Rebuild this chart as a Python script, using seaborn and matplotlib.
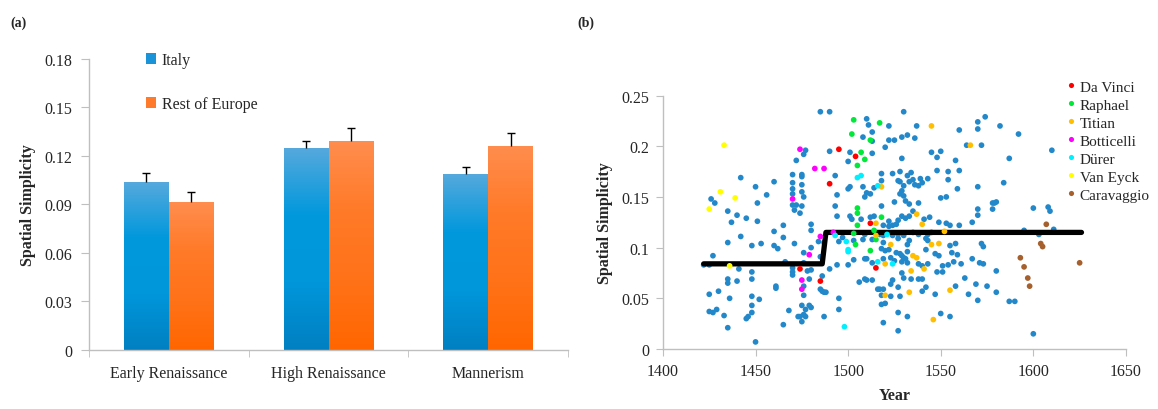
import numpy as np
import pandas as pd
import matplotlib
matplotlib.use("Agg")
import matplotlib.pyplot as plt
from matplotlib.colors import LinearSegmentedColormap
from matplotlib.patches import Patch
import seaborn as sns

# ---- panel (a): mean spatial simplicity per period ----
periods = ["Early Renaissance", "High Renaissance", "Mannerism"]
italy_mean = [0.1039, 0.1250, 0.1085]
italy_err = [0.0058, 0.0045, 0.0048]
europe_mean = [0.0913, 0.1293, 0.1264]
europe_err = [0.0062, 0.0080, 0.0077]
regions = ["Italy", "Rest of Europe"]
bar_ticks = [0, 0.03, 0.06, 0.09, 0.12, 0.15, 0.18]
bar_tick_labels = ["0", "0.03", "0.06", "0.09", "0.12", "0.15", "0.18"]

# ---- panel (b): paintings by year ----
step_years = [1422, 1486, 1488, 1626]
step_vals = [0.084, 0.084, 0.115, 0.115]
year_ticks = [1400, 1450, 1500, 1550, 1600, 1650]
simp_ticks = [0, 0.05, 0.1, 0.15, 0.2, 0.25]
simp_tick_labels = ["0", "0.05", "0.1", "0.15", "0.2", "0.25"]

other_pts = [
    (1422, .083), (1425, .083), (1426, .148), (1428, .144), (1427, .092), (1425, .054),
    (1425, .037), (1427, .036), (1429, .039), (1433, .033), (1430, .057), (1435, .136),
    (1437, .125), (1440, .132), (1442, .169), (1435, .105), (1435, .069), (1435, .065),
    (1436, .050), (1435, .021), (1440, .067), (1441, .079), (1442, .111), (1445, .129),
    (1448, .102), (1448, .076), (1448, .069), (1448, .052), (1448, .043), (1448, .036),
    (1446, .032), (1445, .030), (1450, .160), (1451, .144), (1451, .126), (1453, .104),
    (1456, .152), (1452, .049), (1450, .007), (1460, .165), (1460, .116), (1460, .102),
    (1462, .099), (1461, .062), (1461, .060), (1465, .122), (1465, .110), (1465, .024),
    (1466, .086), (1468, .038), (1470, .172), (1470, .164), (1470, .158), (1470, .153),
    (1470, .142), (1471, .137), (1472, .142), (1474, .134), (1471, .104), (1470, .080),
    (1470, .076), (1470, .073), (1476, .192), (1477, .196), (1472, .186), (1475, .172),
    (1475, .170), (1475, .162), (1475, .155), (1476, .150), (1475, .141), (1480, .123),
    (1480, .117), (1480, .100), (1476, .095), (1476, .085), (1478, .077), (1479, .069),
    (1476, .062), (1476, .053), (1475, .043), (1477, .039), (1476, .034), (1474, .032),
    (1473, .032), (1477, .032), (1475, .027), (1479, .043), (1480, .041), (1480, .078),
    (1485, .234), (1490, .234), (1490, .195), (1484, .106), (1485, .091), (1487, .105),
    (1486, .072), (1485, .059), (1486, .057), (1487, .056), (1488, .056), (1487, .032),
    (1490, .079), (1493, .171), (1494, .152), (1493, .141), (1494, .131), (1494, .083),
    (1495, .050), (1495, .039),
    (1510, .227), (1511, .221), (1530, .234), (1513, .214), (1508, .209), (1522, .220),
    (1537, .220), (1513, .205), (1522, .206), (1525, .206), (1529, .209), (1532, .211),
    (1536, .208), (1560, .216), (1513, .193), (1520, .199), (1545, .194), (1550, .195),
    (1501, .194), (1500, .185), (1529, .188), (1528, .175), (1534, .174), (1548, .189),
    (1558, .186), (1518, .173), (1524, .173), (1532, .171), (1527, .166), (1539, .168),
    (1543, .168), (1554, .175), (1560, .176), (1548, .176), (1501, .160), (1500, .158),
    (1508, .160), (1514, .159), (1518, .166), (1528, .165), (1530, .161), (1533, .165),
    (1535, .167), (1536, .162), (1540, .164), (1538, .161), (1554, .167), (1559, .158),
    (1510, .154), (1512, .153), (1509, .150), (1528, .153), (1529, .156), (1530, .151),
    (1518, .141), (1525, .145), (1531, .146), (1533, .143), (1538, .144), (1550, .149),
    (1553, .150), (1501, .131), (1502, .128), (1507, .128), (1512, .130), (1514, .131),
    (1522, .126), (1524, .122), (1526, .123), (1527, .127), (1529, .131), (1531, .129),
    (1533, .131), (1535, .136), (1541, .128), (1544, .130), (1549, .125), (1553, .124),
    (1555, .122), (1560, .122), (1519, .122), (1522, .121), (1497, .110), (1495, .106),
    (1509, .113), (1503, .107), (1508, .108), (1513, .108), (1517, .113), (1519, .112),
    (1524, .112), (1527, .113), (1527, .109), (1530, .112), (1532, .103), (1535, .115),
    (1538, .113), (1542, .109), (1543, .107), (1543, .113), (1533, .107), (1545, .115),
    (1555, .102), (1556, .095), (1559, .093), (1558, .104), (1519, .105), (1518, .099),
    (1520, .097), (1522, .098), (1526, .095), (1528, .094), (1529, .092), (1530, .090),
    (1525, .087), (1529, .086), (1531, .089), (1532, .085), (1538, .084), (1540, .082),
    (1543, .084), (1500, .083), (1503, .088), (1509, .089), (1510, .089), (1513, .085),
    (1519, .089), (1523, .090), (1532, .096), (1542, .098), (1547, .094), (1549, .092),
    (1551, .082), (1554, .083), (1557, .086), (1561, .084), (1509, .069), (1510, .068),
    (1513, .068), (1516, .059), (1517, .059), (1519, .059), (1524, .068), (1523, .064),
    (1527, .061), (1528, .052), (1530, .070), (1529, .075), (1534, .069), (1538, .069),
    (1540, .069), (1542, .061), (1548, .076), (1551, .076), (1558, .062), (1506, .066),
    (1518, .053), (1518, .044), (1520, .045), (1523, .052), (1527, .036), (1532, .032),
    (1540, .057), (1547, .054), (1519, .026), (1527, .018), (1550, .035), (1555, .032),
    (1570, .224), (1574, .229), (1570, .217), (1582, .220), (1592, .212), (1564, .201),
    (1572, .201), (1610, .196), (1587, .188), (1584, .164), (1570, .160), (1578, .144),
    (1579, .144), (1580, .145), (1578, .138), (1570, .138), (1570, .132), (1600, .139),
    (1608, .140), (1609, .136), (1567, .125), (1611, .118), (1595, .117), (1603, .113),
    (1572, .104), (1573, .101), (1567, .089), (1571, .085), (1573, .084), (1580, .077),
    (1563, .070), (1569, .064), (1575, .062), (1580, .056), (1565, .054), (1570, .048),
    (1587, .047), (1590, .047), (1600, .015),
]
davinci_pts = [(1495, .197), (1490, .163), (1474, .079), (1485, .067), (1504, .190),
               (1512, .124), (1515, .080)]
raphael_pts = [(1503, .226), (1517, .223), (1502, .212), (1512, .206), (1507, .194),
               (1509, .187), (1505, .181), (1505, .139), (1505, .134), (1505, .122),
               (1503, .114), (1514, .117), (1518, .130), (1504, .103), (1512, .097),
               (1515, .108)]
titian_pts = [(1545, .220), (1518, .160), (1537, .133), (1540, .123), (1515, .124),
              (1523, .103), (1535, .092), (1537, .090), (1520, .084), (1534, .077),
              (1541, .079), (1545, .103), (1549, .104), (1552, .116), (1555, .058),
              (1520, .053), (1533, .056), (1546, .029), (1515, .112), (1566, .201)]
botticelli_pts = [(1474, .197), (1482, .178), (1487, .178), (1470, .148), (1479, .093),
                  (1475, .068), (1475, .059), (1485, .111), (1492, .115)]
durer_pts = [(1493, .112), (1505, .169), (1507, .171), (1516, .161), (1499, .106),
             (1500, .098), (1500, .096), (1516, .086), (1524, .084), (1521, .113),
             (1498, .022)]
vaneyck_pts = [(1433, .201), (1431, .155), (1439, .149), (1425, .138), (1436, .082)]
caravaggio_pts = [(1607, .123), (1604, .104), (1605, .101), (1593, .090), (1595, .081),
                  (1597, .070), (1598, .062), (1625, .085)]

artist_names = ["Da Vinci", "Raphael", "Titian", "Botticelli", "Dürer", "Van Eyck", "Caravaggio"]
artist_colors = ["#ff0000", "#00e83a", "#ffbf00", "#ff00ff", "#00f0ff", "#ffff00", "#a5602e"]
artist_pts = [davinci_pts, raphael_pts, titian_pts, botticelli_pts, durer_pts, vaneyck_pts, caravaggio_pts]

sns.set_style("white")
plt.rcParams["font.family"] = ["Liberation Serif", "DejaVu Serif"]
axis_grey = "#bfbfbf"

fig = plt.figure(figsize=(11.58, 4.10), dpi=100)
ax1 = fig.add_axes([0.0769, 0.1446, 0.4136, 0.7091])
ax2 = fig.add_axes([0.5725, 0.1463, 0.3998, 0.6183])

# ---------------- (a) bars ----------------
bars = pd.DataFrame({
    "period": periods * 2,
    "region": [regions[0]] * 3 + [regions[1]] * 3,
    "value": italy_mean + europe_mean,
    "err": italy_err + europe_err,
})
sns.barplot(data=bars, x="period", y="value", hue="region", hue_order=regions,
            palette=["#0096da", "#ff7520"], width=0.5625, errorbar=None,
            legend=False, ax=ax1, zorder=2)

grads = {
    regions[0]: ["#0080c2", "#0096da", "#0098dc", "#55a9dd"],
    regions[1]: ["#ff6600", "#ff7218", "#ff7a28", "#ff8d4e"],
}
for patch, (_, row) in zip(ax1.patches, bars.iterrows()):
    x0, y0 = patch.get_x(), patch.get_y()
    w, h = patch.get_width(), patch.get_height()
    cmap = LinearSegmentedColormap.from_list("g", grads[row["region"]])
    im = ax1.imshow(np.linspace(1, 0, 256).reshape(-1, 1), cmap=cmap, vmin=0, vmax=1,
                    extent=[x0, x0 + w, y0, y0 + h], aspect="auto", origin="upper", zorder=2)
    im.set_clip_path(patch)
    patch.set_facecolor("none")
    patch.set_edgecolor("none")
    eb = ax1.errorbar(x0 + w / 2, h, yerr=[[0], [row["err"]]], fmt="none", ecolor="black",
                      elinewidth=1, capsize=3, capthick=1, zorder=3)
    # only the upper cap, as in the original
    eb[1][0].set_visible(False)

ax1.set_xlim(-0.5, 2.5)
ax1.set_ylim(0, 0.18)
ax1.set_yticks(bar_ticks)
ax1.set_yticklabels(bar_tick_labels)
ax1.set_xticks([-0.5, 0.5, 1.5, 2.5], minor=True)
ax1.tick_params(axis="x", which="major", length=0, pad=11, labelsize=11.5)
ax1.tick_params(axis="x", which="minor", length=5, color=axis_grey, direction="out", bottom=True)
ax1.tick_params(axis="y", length=6, color=axis_grey, direction="out", left=True, pad=6, labelsize=11.5)
ax1.set_xlabel("")
ax1.set_ylabel("Spatial Simplicity", fontsize=11.5, fontweight="bold", labelpad=6)
for s in ["top", "right"]:
    ax1.spines[s].set_visible(False)
for s in ["left", "bottom"]:
    ax1.spines[s].set_color(axis_grey)
    ax1.spines[s].set_linewidth(1)

handles = [Patch(facecolor="#1a93d8", edgecolor="none"), Patch(facecolor="#ff7a2a", edgecolor="none")]
ax1.legend(handles, regions, loc="upper left", bbox_to_anchor=(0.105, 1.045), frameon=False,
           fontsize=11.5, handlelength=0.65, handleheight=0.65, handletextpad=0.35,
           labelspacing=1.75, borderaxespad=0)

# ---------------- (b) scatter ----------------
other = pd.DataFrame(other_pts, columns=["year", "value"])
sns.scatterplot(data=other, x="year", y="value", color="#2388c9", s=17, edgecolor="none",
                linewidth=0, ax=ax2, zorder=2)
sns.lineplot(x=step_years, y=step_vals, color="black", linewidth=3.8, estimator=None,
             sort=False, ax=ax2, zorder=3)

frames = []
for name, pts in zip(artist_names, artist_pts):
    df = pd.DataFrame(pts, columns=["year", "value"])
    df["artist"] = name
    frames.append(df)
artists = pd.concat(frames, ignore_index=True)
sns.scatterplot(data=artists, x="year", y="value", hue="artist", hue_order=artist_names,
                palette=artist_colors, s=17, edgecolor="none", linewidth=0, ax=ax2, zorder=4)

ax2.set_xlim(1400, 1650)
ax2.set_ylim(0, 0.25)
ax2.set_xticks(year_ticks)
ax2.set_yticks(simp_ticks)
ax2.set_yticklabels(simp_tick_labels)
ax2.tick_params(axis="both", length=5, color=axis_grey, direction="out", bottom=True,
                left=True, labelsize=11.5, pad=5)
ax2.set_xlabel("Year", fontsize=11.5, fontweight="bold", labelpad=6)
ax2.set_ylabel("Spatial Simplicity", fontsize=11.5, fontweight="bold", labelpad=6)
for s in ["top", "right"]:
    ax2.spines[s].set_visible(False)
for s in ["left", "bottom"]:
    ax2.spines[s].set_color(axis_grey)
    ax2.spines[s].set_linewidth(1)

leg = ax2.legend(loc="upper left", bbox_to_anchor=(0.852, 1.085), frameon=False, fontsize=11,
                 handletextpad=0.05, labelspacing=0.28, borderaxespad=0, markerscale=0.9,
                 handlelength=1.0)

fig.text(0.009, 0.935, "(a)", fontsize=10, fontweight="bold")
fig.text(0.499, 0.935, "(b)", fontsize=10, fontweight="bold")

fig.savefig("out.png", dpi=100)
